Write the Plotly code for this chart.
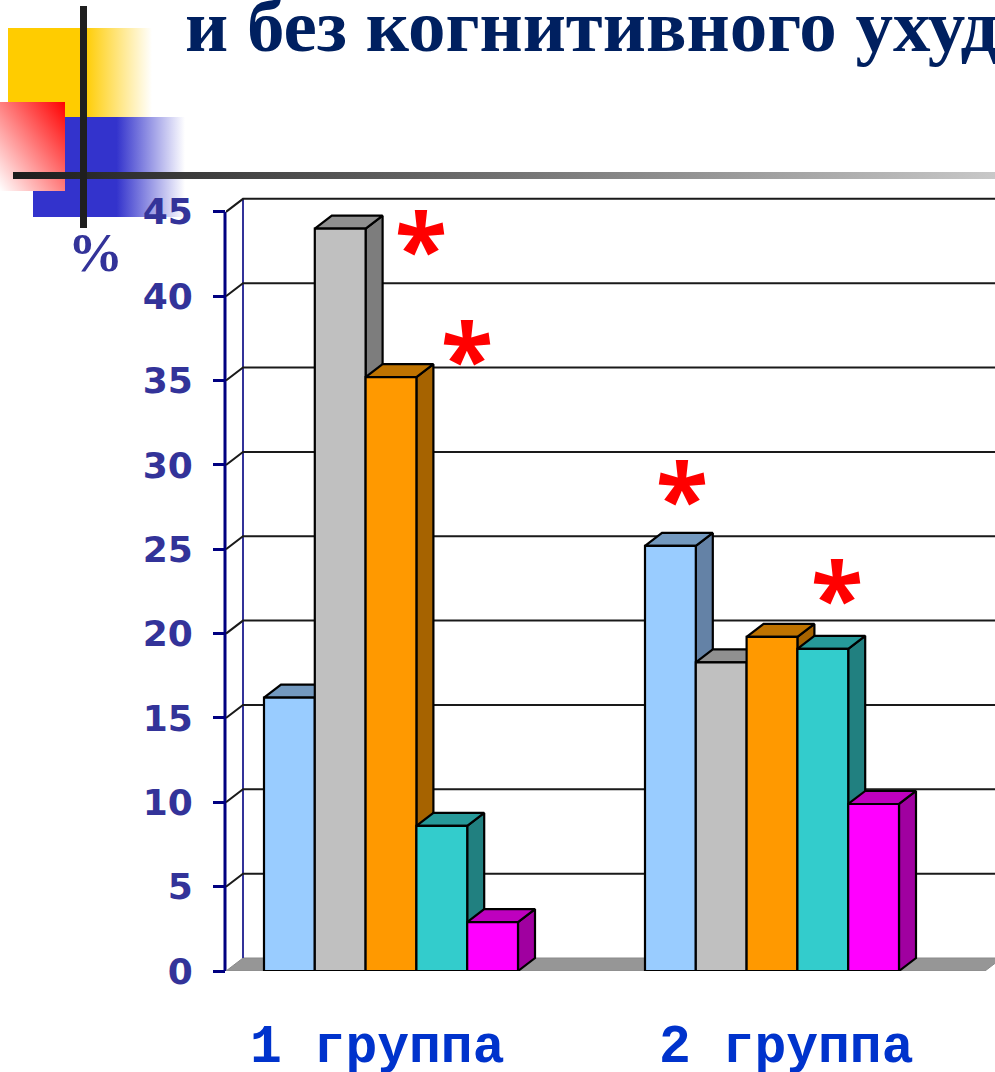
import base64
import plotly.graph_objects as go

# Chart data: share of patients (%) per group and indicator
groups = ["1 группа", "2 группа"]
group_starts = [0.0, 7.5]
group_1_values = [16.2, 44.0, 35.2, 8.6, 2.9]
group_2_values = [25.2, 18.3, 19.8, 19.1, 9.9]
y_ticks = [0, 5, 10, 15, 20, 25, 30, 35, 40, 45]
starred_labels = ["*", "*", "*", "*"]

# Face colours of the extruded columns: front, side, top
front_colors = ["#99CCFF", "#C0C0C0", "#FF9900", "#33CCCC", "#FF00FF"]
side_colors = ["#6482A6", "#7D7D7D", "#A66300", "#218080", "#A000A0"]
top_colors = ["#7399BF", "#909090", "#BF7300", "#269999", "#BF00BF"]

W, H = 995, 1072
PX_PER_BAR = 50.8
PX_PER_UNIT = 16.87
ZERO_PX = 971
AXIS_PX = 226
FIRST_BAR_PX = 264
TOP_PX = 190
DX = 17 / PX_PER_BAR   # extrusion depth, horizontal
DY = 13 / PX_PER_UNIT  # extrusion depth, vertical

x_min = (AXIS_PX - FIRST_BAR_PX) / PX_PER_BAR
x_max = (W - FIRST_BAR_PX) / PX_PER_BAR
y_max = (ZERO_PX - TOP_PX) / PX_PER_UNIT


def svg_gradient(width, height, stops, x1=0, y1=0, x2=1, y2=0):
    stop_tags = "".join(
        f'<stop offset="{o}" stop-color="{c}"/>' for o, c in stops
    )
    svg = (
        f'<svg xmlns="http://www.w3.org/2000/svg" width="{width}" height="{height}">'
        f'<defs><linearGradient id="g" x1="{x1}" y1="{y1}" x2="{x2}" y2="{y2}">'
        f"{stop_tags}</linearGradient></defs>"
        f'<rect width="{width}" height="{height}" fill="url(#g)"/></svg>'
    )
    return "data:image/svg+xml;base64," + base64.b64encode(svg.encode()).decode()


def corner_image(x0, y0, x1, y1, source):
    return dict(
        source=source, xref="x", yref="y", x=x0, y=y0,
        sizex=x1 - x0, sizey=y1 - y0, sizing="stretch",
        xanchor="left", yanchor="top", layer="below",
    )


fig = go.Figure()


def polygon(xs, ys, fill, line="#000000", width=2.2):
    fig.add_trace(go.Scatter(
        x=xs, y=ys, mode="lines", fill="toself", fillcolor=fill,
        line=dict(color=line, width=width), hoverinfo="skip", showlegend=False,
        xaxis="x2", yaxis="y2", cliponaxis=False,
    ))


def polyline(xs, ys, color, width):
    fig.add_trace(go.Scatter(
        x=xs, y=ys, mode="lines", line=dict(color=color, width=width),
        hoverinfo="skip", showlegend=False, xaxis="x2", yaxis="y2", cliponaxis=False,
    ))


# Corner cross of the slide, on the pixel-scaled background axes
fig.add_trace(go.Scatter(
    x=[13, W, W, 13, 13], y=[172, 172, 179, 179, 172], mode="lines", fill="toself",
    line=dict(width=0),
    fillgradient=dict(type="horizontal", colorscale=[[0, "#1c1c1c"], [1, "#c8c8c8"]]),
    hoverinfo="skip", showlegend=False,
))
fig.add_trace(go.Scatter(
    x=[80, 87, 87, 80, 80], y=[6, 6, 228, 228, 6], mode="lines", fill="toself",
    fillcolor="#1f1f1f", line=dict(width=0), hoverinfo="skip", showlegend=False,
))
# Front edge of the value axis, drawn here so its full width stays visible
fig.add_trace(go.Scatter(
    x=[AXIS_PX - 1, AXIS_PX - 1], y=[ZERO_PX - 45 * PX_PER_UNIT, ZERO_PX], mode="lines",
    line=dict(color="#000080", width=3), hoverinfo="skip", showlegend=False,
))

# Back wall and floor
floor_end = (985 - FIRST_BAR_PX) / PX_PER_BAR
grid_end = x_max + 1
polygon([x_min, x_min + DX, floor_end + DX, floor_end, x_min],
        [0, DY, DY, 0, 0], "#969696", line="#8a8a8a", width=1)
polyline([x_min + DX, x_min + DX], [DY, 45 + DY], "#333399", 2)
for tick in y_ticks[1:]:
    polyline([x_min, x_min + DX, grid_end],
             [tick, tick + DY, tick + DY], "#1a1a1a", 2)

# Extruded columns, left to right so that each front covers the previous side
for start, values in zip(group_starts, [group_1_values, group_2_values]):
    for i, value in enumerate(values):
        x0, x1 = start + i, start + i + 1
        polygon([x1, x1 + DX, x1 + DX, x1, x1],
                [0, DY, value + DY, value, 0], side_colors[i])
        polygon([x0, x0 + DX, x1 + DX, x1, x0],
                [value, value + DY, value + DY, value, value], top_colors[i])
        polygon([x0, x1, x1, x0, x0], [0, 0, value, value, 0], front_colors[i])

annotations = [
    dict(text="и без когнитивного ухуд", x=184, y=68, xanchor="left", yanchor="bottom",
         font=dict(family="Liberation Serif", size=75, color="#002060", weight="bold")),
    dict(text="%", x=95, y=252, xanchor="center", yanchor="middle",
         font=dict(family="Liberation Serif", size=55, color="#333399", weight="bold")),
]
for label, px in zip(groups, [377, 786]):
    annotations.append(dict(
        text=label, x=px, y=1048, xanchor="center", yanchor="middle",
        font=dict(family="Liberation Mono", size=53, color="#0033CC", weight="bold"),
    ))
for label, (px, py) in zip(starred_labels, [(421, 246), (467, 356), (682, 496), (837, 595)]):
    annotations.append(dict(
        text=label, x=px, y=py, xanchor="center", yanchor="middle",
        font=dict(family="Noto Sans", size=96, color="#FF0000", weight="bold"),
    ))
for a in annotations:
    a.update(xref="x", yref="y", showarrow=False, borderpad=0)

fig.update_layout(
    width=W, height=H, margin=dict(l=0, r=0, t=0, b=0, autoexpand=False),
    paper_bgcolor="#FFFFFF", plot_bgcolor="rgba(0,0,0,0)", showlegend=False,
    annotations=annotations,
    images=[
        corner_image(8, 28, 152, 117, svg_gradient(
            144, 89, [(0, "#FFCC00"), (0.53, "#FFCC00"), (1, "#FFFFFF")])),
        corner_image(33, 117, 185, 217, svg_gradient(
            152, 100, [(0, "#3333CC"), (0.55, "#3333CC"), (1, "#FFFFFF")])),
        corner_image(0, 102, 65, 191, svg_gradient(
            65, 89, [(0, "#FF0000"), (1, "#FFFFFF")], x1=1, y1=0, x2=0, y2=1)),
    ],
    xaxis=dict(range=[0, W], domain=[0, 1], visible=False, fixedrange=True, automargin=False),
    yaxis=dict(range=[H, 0], domain=[0, 1], visible=False, fixedrange=True, automargin=False),
    xaxis2=dict(
        range=[x_min, x_max], domain=[AXIS_PX / W, 1], anchor="y2", automargin=False,
        showgrid=False, zeroline=False, showline=False, showticklabels=False, ticks="",
    ),
    yaxis2=dict(
        range=[0, y_max], domain=[(H - ZERO_PX) / H, (H - TOP_PX) / H], anchor="x2",
        automargin=False,
        tickvals=y_ticks, showgrid=False, zeroline=False, showline=False,
        ticks="outside", ticklen=12, tickwidth=3, tickcolor="#000080",
        ticklabelstandoff=13,
        tickfont=dict(family="DejaVu Sans", size=36, color="#333399", weight="bold"),
    ),
)

fig.write_html("out.html", config=dict(displayModeBar=False))
